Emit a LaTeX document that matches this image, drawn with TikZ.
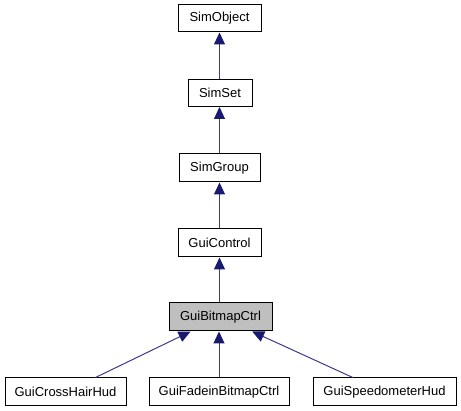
\documentclass[tikz,border=0pt]{standalone}
\usepackage{fontspec}
\setmainfont{Liberation Sans}
\usetikzlibrary{arrows.meta}
\definecolor{edgeblue}{HTML}{191970}
\definecolor{edgeline}{HTML}{3C3C8C}
\definecolor{hilite}{HTML}{BFBFBF}
\tikzset{
  cls/.style={draw=black, line width=1pt, fill=white, minimum height=28pt, inner sep=0pt,
    font=\fontsize{13pt}{15pt}\selectfont},
  arr/.style={draw=edgeline, line width=1pt, -{Triangle[length=12pt,width=11pt,color=edgeblue,fill=edgeblue]}}
}
\begin{document}
\begin{tikzpicture}[x=1pt,y=-1pt]
\useasboundingbox (0,0) rectangle (461,411);
\node[cls, minimum width=83pt, minimum height=27pt] (obj) at (219.5,18.5) {SimObject};
\node[cls, minimum width=64pt, minimum height=27pt] (set) at (220,93) {SimSet};
\node[cls, minimum width=81pt] (grp) at (219.5,168) {SimGroup};
\node[cls, minimum width=83pt] (ctl) at (219.5,243) {GuiControl};
\node[cls, minimum width=103pt, fill=hilite] (bmp) at (220.5,317) {GuiBitmapCtrl};
\node[cls, minimum width=121pt] (cross) at (65.5,392) {GuiCrossHairHud};
\node[cls, minimum width=140pt] (fade) at (219,392) {GuiFadeinBitmapCtrl};
\node[cls, minimum width=143pt] (speed) at (384.5,392) {GuiSpeedometerHud};
\draw[arr] (set.north -| obj.south) -- (obj.south);
\draw[arr] (grp.north) -- (set.south -| grp.north);
\draw[arr] (ctl.north) -- (grp.south);
\draw[arr] (bmp.north -| ctl.south) -- (ctl.south);
\draw[arr] (fade.north) -- (bmp.south -| fade.north);
\draw[arr] (cross) -- (bmp);
\draw[arr] (speed) -- (bmp);
\end{tikzpicture}
\end{document}
